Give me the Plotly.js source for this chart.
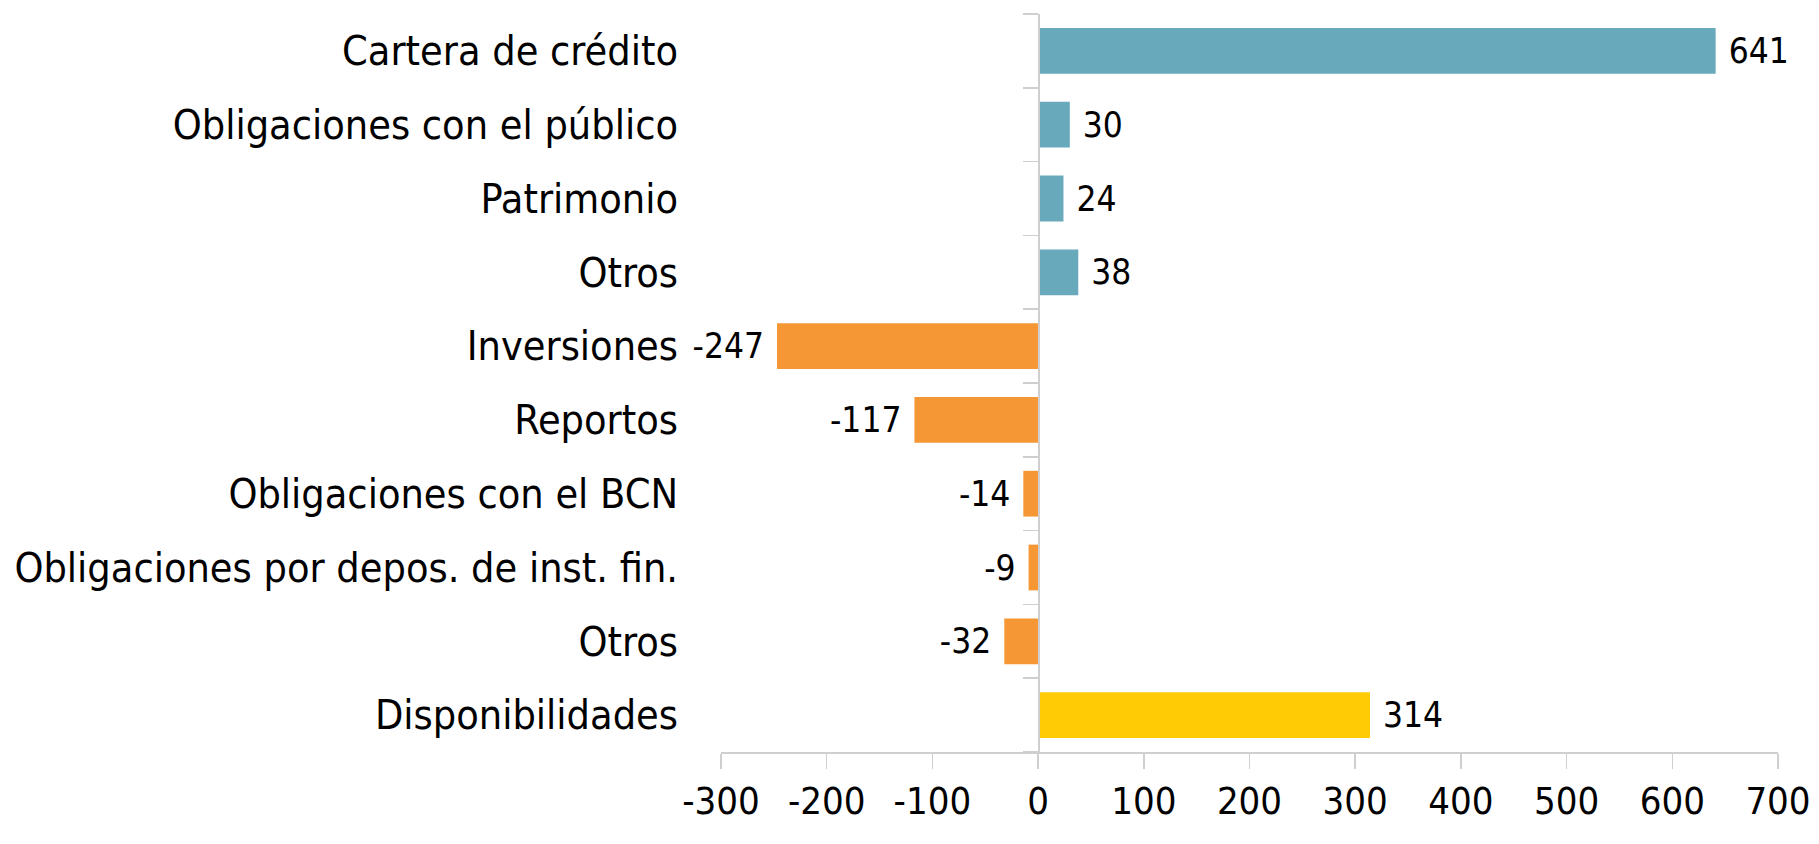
<!DOCTYPE html>
<html>
<head>
<meta charset="utf-8">
<script src="https://cdn.plot.ly/plotly-3.0.1.min.js"></script>
<style>
  html, body { margin: 0; padding: 0; background: #ffffff; }
  #chart { width: 1819px; height: 844px; }
</style>
</head>
<body>
<div id="chart"></div>
<script>
// ---- data ----
const categories = [
  "Cartera de crédito",
  "Obligaciones con el público",
  "Patrimonio",
  "Otros",
  "Inversiones",
  "Reportos",
  "Obligaciones con el BCN",
  "Obligaciones por depos. de inst. fin.",
  "Otros",
  "Disponibilidades"
];
const values = [641, 30, 24, 38, -247, -117, -14, -9, -32, 314];
const groups = ["fuente", "fuente", "fuente", "fuente", "uso", "uso", "uso", "uso", "uso", "neto"];
const xTicks = [-300, -200, -100, 0, 100, 200, 300, 400, 500, 600, 700];

// ---- styles ----
const groupColors = { fuente: "#68a9bc", uso: "#f59735", neto: "#fecb05" };
const FONT = "DejaVu Sans Condensed, Liberation Sans Narrow, Roboto, sans-serif";
const positions = categories.map((_, i) => i);

function traceFor(g) {
  const idx = positions.filter(i => groups[i] === g);
  const xs = idx.map(i => values[i]);
  return {
    type: "bar",
    orientation: "h",
    x: xs,
    y: idx,
    marker: { color: groupColors[g] },
    text: xs.map(v => (v < 0 ? v + " " : " " + v)),
    texttemplate: "%{text}",
    textposition: "outside",
    constraintext: "none",
    cliponaxis: false,
    textfont: { family: FONT, size: 35, color: "#000000" },
    hoverinfo: "x+y",
    showlegend: false
  };
}

const traces = ["fuente", "uso", "neto"].map(traceFor);
// invisible helper so the zero-line axis with boundary ticks is drawn
traces.push({
  type: "scatter", mode: "markers", x: [0], y: [0], yaxis: "y2",
  marker: { opacity: 0 }, hoverinfo: "skip", showlegend: false
});

const yRange = [categories.length - 0.5, -0.5];

const layout = {
  width: 1819,
  height: 844,
  margin: { l: 721, r: 41, t: 14, b: 92 },
  paper_bgcolor: "#ffffff",
  plot_bgcolor: "#ffffff",
  barmode: "relative",
  bargap: 0.38,
  showlegend: false,
  font: { family: FONT, color: "#000000" },
  xaxis: {
    range: [-300, 700],
    tickmode: "array",
    tickvals: xTicks,
    ticktext: xTicks.map(String),
    ticks: "outside",
    ticklen: 15,
    tickwidth: 1.5,
    tickcolor: "#cfcfcf",
    showline: true,
    linecolor: "#cfcfcf",
    linewidth: 1.5,
    showgrid: false,
    zeroline: false,
    tickfont: { family: FONT, size: 38, color: "#000000" },
    automargin: false,
    fixedrange: true
  },
  yaxis: {
    range: yRange,
    tickmode: "array",
    tickvals: positions,
    ticktext: categories,
    ticks: "",
    showline: false,
    showgrid: false,
    zeroline: false,
    ticklabelstandoff: 42,
    tickfont: { family: FONT, size: 41, color: "#000000" },
    automargin: false,
    fixedrange: true
  },
  yaxis2: {
    overlaying: "y",
    anchor: "free",
    position: 0.3,
    side: "left",
    range: yRange,
    tickmode: "linear",
    tick0: -0.5,
    dtick: 1,
    ticks: "outside",
    ticklen: 15,
    tickwidth: 1.5,
    tickcolor: "#cfcfcf",
    showticklabels: false,
    showline: true,
    linecolor: "#cfcfcf",
    linewidth: 1.5,
    showgrid: false,
    zeroline: false,
    automargin: false,
    fixedrange: true
  }
};

Plotly.newPlot("chart", traces, layout, { displayModeBar: false, staticPlot: true });
</script>
</body>
</html>
